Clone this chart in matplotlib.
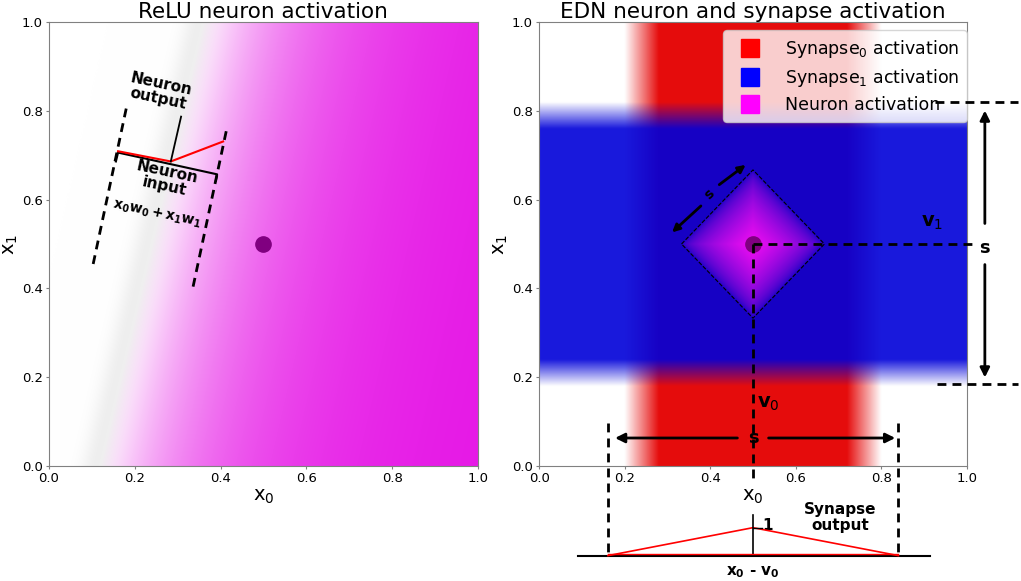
import matplotlib.pyplot as plt
import numpy as np
from matplotlib.lines import Line2D

# ---- field parameters ----
relu_x_at_y0 = 0.12      # boundary of relu activation at x1 = 0
relu_slope = 0.24        # boundary shift per unit x1
relu_scale = 0.25        # how fast the relu colour saturates
neuron_center = [0.5, 0.5]
syn0_halfwidth = 0.30    # red band half width (in x0)
syn0_fade = 0.08
syn1_halfwidth = 0.32    # blue band half width (in x1)
syn1_fade = 0.06
diamond_r = 0.167

legend_labels = ['Synapse$_0$ activation', 'Synapse$_1$ activation', 'Neuron activation']
legend_colors = ['#ff0000', '#0000ff', '#ff00ff']
ticks = [0.0, 0.2, 0.4, 0.6, 0.8, 1.0]

# synapse output triangle (x0 - v0 axis drawn under the right panel)
syn_out_x = [0.161, 0.5, 0.840]
syn_out_y = [-0.202, -0.139, -0.202]

n = 400
g = (np.arange(n) + 0.5) / n
X, Y = np.meshgrid(g, g)


def blend(img, color, alpha):
    a = alpha[..., None]
    return img * (1 - a) + np.array(color)[None, None, :] * a


# left field: relu
d = (X - (relu_x_at_y0 + relu_slope * Y)) / np.sqrt(1 + relu_slope ** 2)
left = np.ones((n, n, 3))
gray_a = 0.13 * np.exp(-((d + 0.01) / 0.035) ** 2)
left = blend(left, (0.5, 0.5, 0.5), gray_a)
left = blend(left, (0.9, 0.07, 0.9), 1 - np.exp(-np.clip(d, 0, None) / relu_scale))

# right field: two synapse bands and the neuron diamond
cx, cy = neuron_center
a_r = np.clip((syn0_halfwidth - np.abs(X - cx)) / syn0_fade, 0, 1)
a_b = 0.9 * np.clip((syn1_halfwidth - np.abs(Y - cy)) / syn1_fade, 0, 1)
a_n = np.clip(1 - (np.abs(X - cx) + np.abs(Y - cy)) / diamond_r, 0, 1) ** 0.6
right = np.ones((n, n, 3))
right = blend(right, (0.9, 0.05, 0.05), a_r)
right = blend(right, (0.0, 0.0, 0.85), a_b)
right = blend(right, (0.95, 0.05, 0.95), a_n)

fig = plt.figure(figsize=(10.21, 5.81), dpi=100)
ax1 = fig.add_axes([0.048, 0.198, 0.420, 0.764])
ax2 = fig.add_axes([0.528, 0.198, 0.419, 0.764])

for ax, img, title in [(ax1, left, 'ReLU neuron activation'),
                       (ax2, right, 'EDN neuron and synapse activation')]:
    ax.imshow(img, extent=[0, 1, 0, 1], origin='lower', aspect='auto', interpolation='bilinear')
    ax.set_xlim(0, 1)
    ax.set_ylim(0, 1)
    ax.set_xticks(ticks)
    ax.set_yticks(ticks)
    ax.tick_params(labelsize=9.5, color='gray', length=2.5, pad=2)
    for sp in ax.spines.values():
        sp.set_color('gray')
    ax.set_xlabel('x$_0$', fontsize=14, labelpad=1)
    ax.set_ylabel('x$_1$', fontsize=14)
    ax.yaxis.set_label_coords(-0.068, 0.5)
    ax.set_title(title, fontsize=15.5, pad=2)
    ax.plot(cx, cy, 'o', color='#800080', markersize=11, zorder=5)

dash = (0, (3.2, 2.2))
bold = dict(fontweight='bold', ha='center', va='center')

# ---- left annotations ----
ax1.plot([0.103, 0.182], [0.455, 0.814], 'k', lw=2, linestyle=dash)
ax1.plot([0.336, 0.415], [0.404, 0.762], 'k', lw=2, linestyle=dash)
ax1.plot([0.156, 0.161, 0.392, 0.389], [0.686, 0.706, 0.657, 0.643], 'k', lw=1.5)
ax1.plot([0.161, 0.284, 0.406], [0.709, 0.686, 0.731], 'r', lw=1.5)
ax1.plot([0.284, 0.308], [0.686, 0.787], 'k', lw=1.3)
ax1.text(0.258, 0.843, 'Neuron\noutput', rotation=-12, fontsize=11, linespacing=1.0, **bold)
ax1.text(0.272, 0.646, 'Neuron\ninput', rotation=-12, fontsize=11, linespacing=1.0, **bold)
ax1.text(0.252, 0.567, r'$\mathbf{x_0w_0 + x_1w_1}$', rotation=-12, fontsize=10, **bold)

# ---- right annotations ----
dx = [cx - diamond_r, cx, cx + diamond_r, cx, cx - diamond_r]
dy = [cy, cy + diamond_r, cy, cy - diamond_r, cy]
ax2.plot(dx, dy, 'k--', lw=0.8)
arw_s = dict(arrowstyle='-|>', color='k', lw=2, mutation_scale=11)
ax2.annotate('', xy=(0.306, 0.522), xytext=(0.383, 0.590), arrowprops=arw_s)
ax2.annotate('', xy=(0.488, 0.682), xytext=(0.416, 0.630), arrowprops=arw_s)
ax2.text(0.398, 0.611, 's', rotation=45, fontsize=10, fontweight='bold', ha='center', va='center')

kw = dict(clip_on=False, zorder=6)
ax2.plot([cx, 1.012], [cy, cy], 'k', lw=2, linestyle=dash, **kw)
ax2.plot([cx, cx], [cy, -0.04], 'k', lw=2, linestyle=dash, **kw)
ax2.plot([0.925, 1.12], [0.821, 0.821], 'k', lw=2, linestyle=dash, **kw)
ax2.plot([0.93, 1.12], [0.184, 0.184], 'k', lw=2, linestyle=dash, **kw)
ax2.plot([0.161, 0.161], [0.096, -0.202], 'k', lw=2, linestyle=dash, **kw)
ax2.plot([0.840, 0.840], [0.096, -0.202], 'k', lw=2, linestyle=dash, **kw)

arw = dict(arrowstyle='-|>', color='k', lw=2, mutation_scale=14)
ax2.annotate('', xy=(1.042, 0.807), xytext=(1.042, 0.54), arrowprops=arw, annotation_clip=False)
ax2.annotate('', xy=(1.042, 0.193), xytext=(1.042, 0.46), arrowprops=arw, annotation_clip=False)
ax2.text(1.042, 0.49, 's', fontsize=13, clip_on=False, **bold)
ax2.annotate('', xy=(0.171, 0.063), xytext=(0.47, 0.063), arrowprops=arw, annotation_clip=False)
ax2.annotate('', xy=(0.839, 0.063), xytext=(0.53, 0.063), arrowprops=arw, annotation_clip=False)
ax2.text(0.5, 0.063, 's', fontsize=13, zorder=7, **bold)
ax2.text(0.918, 0.549, 'v$_1$', fontsize=14, **bold)
ax2.text(0.535, 0.141, 'v$_0$', fontsize=14, **bold)

# synapse output sketch
ax2.plot([0.091, 0.914], [-0.202, -0.202], 'k', lw=1.5, **kw)
ax2.plot(syn_out_x, syn_out_y, 'r', lw=1.2, **kw)
ax2.plot([syn_out_x[0], syn_out_x[-1]], [syn_out_y[0] + 0.004, syn_out_y[-1] + 0.004], 'r', lw=1.0,
         clip_on=False, zorder=7)
ax2.plot([cx, cx], [-0.110, -0.202], 'k', lw=1.2, **kw)
ax2.plot([cx, cx + 0.02], [-0.139, -0.139], 'k', lw=1.0, **kw)
ax2.text(0.535, -0.135, '1', fontsize=11, clip_on=False, **bold)
ax2.text(0.703, -0.117, 'Synapse\noutput', fontsize=11, linespacing=1.1, clip_on=False, **bold)
ax2.text(0.5, -0.24, r'$\mathbf{x_0}$ - $\mathbf{v_0}$', fontsize=11, clip_on=False, **bold)

handles = [Line2D([], [], marker='s', ls='none', color=c, markersize=12.5) for c in legend_colors]
leg = ax2.legend(handles, legend_labels, loc='upper right', fontsize=12.5, framealpha=0.8,
                 handletextpad=0.9, handlelength=2.2, borderpad=0.45, labelspacing=0.4,
                 borderaxespad=0, bbox_to_anchor=(1.0, 0.982))
leg.set_zorder(5)

fig.savefig('out.png', dpi=100)
